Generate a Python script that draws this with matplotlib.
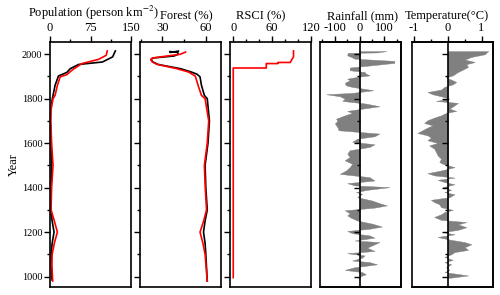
import numpy as np
import matplotlib
matplotlib.use("Agg")
import matplotlib.pyplot as plt
from matplotlib.patches import Rectangle
from matplotlib.ticker import MultipleLocator

plt.rcParams['font.family'] = ['Liberation Serif', 'DejaVu Serif']
plt.rcParams['mathtext.fontset'] = 'stix'
plt.rcParams['font.size'] = 9

# population (person km-2)
pop_black_year = [985, 1050, 1100, 1150, 1200, 1250, 1300, 1400, 1500, 1600, 1700, 1750,
                  1800, 1860, 1902, 1918, 1935, 1954, 1965, 1988, 2015]
pop_black = [3.7, 2.5, 2, 4, 7.5, 4, 1.5, 2, 3, 2, 0.5, 1,
             4.4, 9.4, 15.6, 31, 37.5, 53, 97, 116, 121]
pop_red_year = [980, 1050, 1100, 1150, 1200, 1250, 1300, 1400, 1500, 1600, 1700, 1750,
                1800, 1815, 1860, 1898, 1908, 1928, 1958, 1977, 1995, 2015]
pop_red = [5, 3.5, 4, 8, 13.7, 8, 2, 3, 5.6, 3, 1.5, 2,
           5.6, 9.4, 13.7, 18.8, 31, 40.6, 59, 90, 104, 106]

# forest cover (%)
forest_black_year = [980, 1100, 1150, 1200, 1250, 1300, 1400, 1500, 1600, 1700, 1800, 1815,
                     1860, 1898, 1910, 1920, 1935, 1954, 1965, 1976, 1983, 1992, 2000,
                     2008, 2012, 2008, 2014]
forest_black = [61, 60, 59.5, 58.4, 59.5, 61, 60, 59.5, 61.5, 62.5, 61, 59,
                57, 56, 54, 50, 42.5, 27, 23.5, 22, 23.5, 38, 41,
                40.5, 35, 35.5, 41]
forest_red_year = [980, 1100, 1150, 1200, 1250, 1300, 1400, 1500, 1600, 1700, 1800, 1815,
                   1853, 1902, 1920, 1935, 1954, 1965, 1976, 1983, 2000, 2010]
forest_red = [61, 59.5, 58, 56, 58.5, 60.5, 59.6, 59, 61, 62, 59.5, 57,
              55, 52.7, 48, 40, 26.5, 23, 22, 23, 42.5, 46]

# RSCI (%)
rsci_year = [995, 1938, 1938, 1958, 1958, 1963, 1963, 1977, 1988, 2015]
rsci = [0, 0, 51, 51, 69, 69, 88, 90.6, 93, 93]

# rainfall anomaly (mm)
rain_year = [2014, 2008, 2006, 1995, 1988, 1980, 1970, 1961, 1951, 1940, 1928, 1920, 1913,
             1905, 1898, 1890, 1883, 1871, 1860, 1853, 1838, 1826, 1820, 1811, 1800, 1790,
             1778, 1766, 1755, 1745, 1736, 1725, 1710, 1700, 1688, 1673, 1658, 1643, 1631,
             1620, 1606, 1595, 1583, 1568, 1553, 1538, 1523, 1507, 1492, 1477, 1462, 1447,
             1432, 1420, 1410, 1402, 1390, 1380, 1372, 1357, 1342, 1330, 1320, 1310, 1298,
             1285, 1275, 1265, 1252, 1238, 1225, 1215, 1205, 1195, 1185, 1175, 1162, 1155,
             1140, 1130, 1115, 1105, 1095, 1085, 1072, 1065, 1055, 1042, 1030, 1020, 1010,
             997, 992]
rain = [108, 70, -48, -50, -35, -20, 140, 140, 55, -40, -40, 20, 25,
        40, -10, -50, -40, -60, -55, -30, 55, -30, -135, -80, -60, -70,
        25, 80, 10, -50, -30, -60, -95, -90, -100, -90, -85, 80, 60,
        -10, -30, 60, 40, -40, -50, -40, -60, -30, -40, -55, -80, 40,
        60, -50, -20, 120, 30, -15, 10, -10, 50, 80, 110, 60, -60,
        -40, -50, -35, -10, 50, 90, 40, -50, -30, 40, 60, -20, 80,
        50, 30, 60, -50, 20, 10, -30, 40, 70, -20, -60, 10, 25,
        -10, 0]

# temperature anomaly (degC)
temp_year = [2014, 2008, 2000, 1988, 1976, 1965, 1955, 1943, 1931, 1920, 1905, 1895, 1886,
             1875, 1865, 1853, 1841, 1830, 1820, 1811, 1800, 1790, 1781, 1770, 1755, 1745,
             1736, 1725, 1715, 1703, 1691, 1680, 1670, 1658, 1646, 1635, 1625, 1613, 1601,
             1590, 1575, 1560, 1545, 1530, 1515, 1507, 1492, 1477, 1465, 1455, 1445, 1435,
             1425, 1415, 1402, 1390, 1380, 1370, 1357, 1345, 1335, 1325, 1312, 1300, 1290,
             1280, 1268, 1255, 1245, 1235, 1222, 1210, 1200, 1190, 1178, 1165, 1155, 1145,
             1132, 1120, 1110, 1100, 1088, 1075, 1065, 1055, 1042, 1030, 1020, 1005, 995]
temp = [1.2, 1.15, 1.1, 0.7, 0.5, 0.8, 0.55, 0.6, 0.45, 0.3, 0.15, -0.05, 0.1,
        0.25, 0.15, -0.1, -0.2, -0.6, -0.45, -0.2, 0.05, -0.35, 0.3, 0.2, 0.05, 0.25,
        -0.05, -0.2, -0.4, -0.6, -0.7, -0.45, -0.6, -0.75, -0.9, -0.6, -0.5, -0.6, -0.3,
        -0.55, -0.4, -0.35, -0.3, -0.2, -0.25, -0.15, 0.2, -0.2, -0.6, -0.4, 0.2, -0.3,
        -0.1, 0.2, -0.15, 0.1, -0.1, 0.2, 0.05, -0.5, -0.4, -0.25, -0.2, 0.15, -0.1,
        -0.2, -0.4, -0.2, 0.55, 0.3, 0.55, 0.3, -0.15, 0.2, -0.3, 0.1, 0.5, 0.7,
        0.5, 0.6, 0.2, 0.1, -0.1, 0.15, -0.1, 0.1, -0.05, 0.05, -0.1, 0.6, 0.1]

fig = plt.figure(figsize=(5.0, 2.95), dpi=100)

lefts = [50, 140, 230, 320, 412]
width = 81
bottom = 1 - 287 / 295
height = (287 - 42) / 295
axes = [fig.add_axes([l / 500, bottom, width / 500, height]) for l in lefts]

titles = ["Population (person km$^{-2}$)", "Forest (%)", "RSCI (%)",
          "Rainfall (mm)", "Temperature(°C)"]
title_x = [0.54, 0.57, 0.38, 0.53, 0.43]
xlims = [(0, 150), (14.5, 70.5), (-5, 120), (-160, 167), (-1.06, 1.34)]
majors = [75, 30, 60, 100, 1]
minors = [37.5, 15, 20, 50, 0.5]

for ax, t, tx, xl, mj, mn in zip(axes, titles, title_x, xlims, majors, minors):
    ax.set_ylim(953, 2055)
    ax.set_xlim(*xl)
    ax.xaxis.tick_top()
    ax.xaxis.set_major_locator(MultipleLocator(mj))
    ax.xaxis.set_minor_locator(MultipleLocator(mn))
    ax.yaxis.set_major_locator(MultipleLocator(200))
    ax.yaxis.set_minor_locator(MultipleLocator(100))
    ax.tick_params(which='major', direction='out', length=4, width=1, pad=1.5,
                   labelsize=9, top=True, bottom=False, right=False)
    ax.tick_params(which='minor', direction='out', length=2.5, width=1,
                   top=True, bottom=False, right=False)
    ax.tick_params(axis='y', labelsize=7.5)
    for s in ax.spines.values():
        s.set_linewidth(1.2)
    ax.set_title(t, fontsize=9, pad=2, x=tx)
    if ax is not axes[0]:
        ax.tick_params(axis='y', labelleft=False)

axes[0].set_ylabel("Year", fontsize=9, labelpad=1)

# population
axes[0].plot(pop_black, pop_black_year, color='black', lw=1.2)
axes[0].plot(pop_red, pop_red_year, color='red', lw=1.2)

# forest
axes[1].plot(forest_black, forest_black_year, color='black', lw=1.2)
axes[1].plot(forest_red, forest_red_year, color='red', lw=1.2)
axes[1].xaxis.set_major_formatter(plt.FuncFormatter(lambda v, p: f"{v:.0f}" if v in (30, 60) else ""))

# RSCI
axes[2].plot(rsci, rsci_year, color='red', lw=1.2)

# rainfall and temperature: filled anomalies with spine at zero
for ax, yr, val in [(axes[3], rain_year, rain), (axes[4], temp_year, temp)]:
    ax.fill_betweenx(yr, 0, val, color='#808080', lw=0.3, ec='#808080')
    ax.spines['left'].set_position(('data', 0))
    ax.add_patch(Rectangle((0, 0), 1, 1, transform=ax.transAxes, fill=False,
                           lw=1.2, ec='black', clip_on=False, zorder=5))

axes[3].xaxis.set_major_formatter(plt.FuncFormatter(lambda v, p: f"{v:.0f}" if v in (-100, 0, 100) else ""))
axes[4].xaxis.set_major_formatter(plt.FuncFormatter(lambda v, p: f"{v:.0f}"))

fig.savefig("out.png", dpi=100)
